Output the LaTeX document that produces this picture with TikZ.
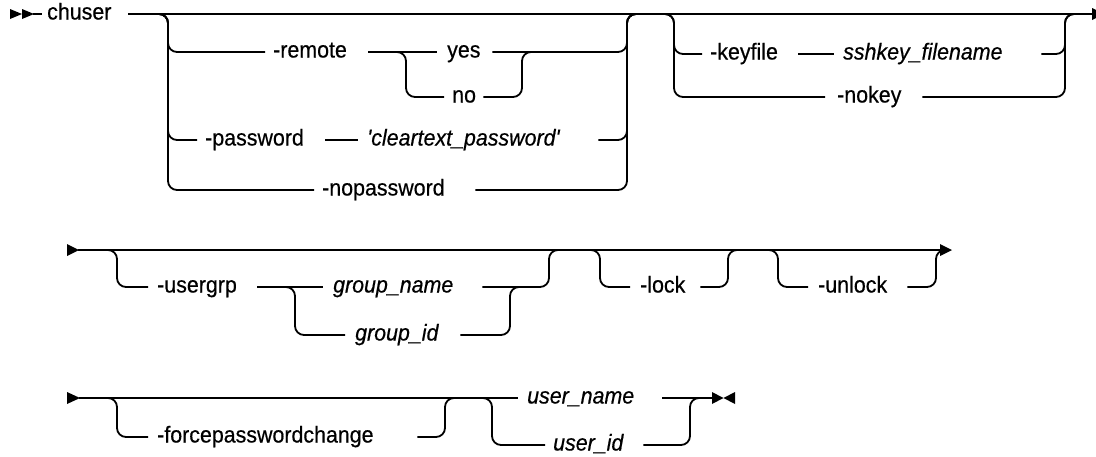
\documentclass[tikz,border=0pt]{standalone}
\usepackage{fontspec}
\newfontfamily\plex[FakeBold=0.5,FakeStretch=0.93]{Liberation Sans}
\newcommand\lab[3]{\makebox[#1pt][l]{\hspace{#2pt}#3}}
\begin{document}
\begin{tikzpicture}[x=1pt,y=-1pt,
  rail/.style={line width=1.8pt, rounded corners=9pt},
  lbl/.style={anchor=west, inner sep=0pt, text height=16pt, text depth=5pt, font=\plex\fontsize{23}{26}\selectfont},
  itl/.style={lbl, font=\plex\itshape\fontsize{23}{26}\selectfont},
  tipfill/.style={fill=black}]
\useasboundingbox (0,0) rectangle (1096,456);

% ---------- row 1 ----------
\fill[tipfill] (10,9) -- (10,19) -- (22,14) -- cycle;
\fill[tipfill] (22,9) -- (22,19) -- (34,14) -- cycle;
\coordinate (s1) at (33,14);
\node[lbl] (chuser) at (42,14) {\lab{86}{5}{chuser}};
\coordinate (e1) at (1093,14);
\draw[rail] (s1) -- (chuser.west);
\draw[rail] (chuser.east) -- (e1);
\fill[tipfill] (1092,8) -- (1096,10) -- (1096,18) -- (1092,20) -- cycle;

% group 1
\coordinate (g1a) at (160,14);
\coordinate (g1l) at (168,14);
\coordinate (g1r) at (627,14);
\coordinate (g1b) at (635,14);
\node[lbl] (remote) at (265,52) {\lab{103}{8}{-remote}};
\node[lbl] (yes) at (437,52) {\lab{55}{10}{yes}};
\node[lbl] (no) at (444,97) {\lab{39}{8}{no}};
\node[lbl] (password) at (197,140) {\lab{128}{8}{-password}};
\node[itl] (clear) at (358,140) {\lab{240}{9}{'cleartext\_password'}};
\node[lbl] (nopw) at (314,190) {\lab{161}{8}{-nopassword}};
\coordinate (yna) at (398,52);
\coordinate (ynl) at (406,52);
\coordinate (ynr) at (522,52);
\coordinate (ynb) at (530,52);

\draw[rail] (g1a) -- (g1l) |- (remote.west);
\draw[rail] (g1a) -- (g1l) |- (password.west);
\draw[rail] (g1a) -- (g1l) |- (nopw.west);
\draw[rail] (remote.east) -- (yes.west);
\draw[rail] (yna) -- (ynl) |- (no.west);
\draw[rail] (no.east) -| (ynr) -- (ynb);
\draw[rail] (yes.east) -| (g1r) -- (g1b);
\draw[rail] (password.east) -- (clear.west);
\draw[rail] (clear.east) -| (g1r) -- (g1b);
\draw[rail] (nopw.east) -| (g1r) -- (g1b);

% group 2
\coordinate (g2a) at (666,14);
\coordinate (g2l) at (674,14);
\coordinate (g2r) at (1065,14);
\coordinate (g2b) at (1073,14);
\node[lbl] (keyfile) at (702,54) {\lab{96}{8}{-keyfile}};
\node[itl] (sshkey) at (834,54) {\lab{207}{9}{sshkey\_filename}};
\node[lbl] (nokey) at (825,97) {\lab{97}{12}{-nokey}};
\draw[rail] (g2a) -- (g2l) |- (keyfile.west);
\draw[rail] (g2a) -- (g2l) |- (nokey.west);
\draw[rail] (keyfile.east) -- (sshkey.west);
\draw[rail] (sshkey.east) -| (g2r) -- (g2b);
\draw[rail] (nokey.east) -| (g2r) -- (g2b);

% ---------- row 2 ----------
\fill[tipfill] (67,244) -- (67,256) -- (79,250) -- cycle;
\coordinate (s2) at (78,250);
\coordinate (e2) at (941,250);
\draw[rail] (s2) -- (e2);
\fill[tipfill] (940,244) -- (940,256) -- (952,250) -- cycle;

\coordinate (ua) at (109,250);
\coordinate (ul) at (117,250);
\coordinate (ur) at (549,250);
\coordinate (ub) at (557,250);
\node[lbl] (usergrp) at (148,287) {\lab{109}{9}{-usergrp}};
\node[itl] (gname) at (323,287) {\lab{159}{10}{group\_name}};
\node[itl] (gid) at (345,335) {\lab{115}{10}{group\_id}};
\coordinate (gsa) at (287,287);
\coordinate (gsl) at (295,287);
\coordinate (gsr) at (510,287);
\coordinate (gsb) at (518,287);
\draw[rail] (ua) -- (ul) |- (usergrp.west);
\draw[rail] (usergrp.east) -- (gname.west);
\draw[rail] (gsa) -- (gsl) |- (gid.west);
\draw[rail] (gid.east) -| (gsr) -- (gsb);
\draw[rail] (gname.east) -| (ur) -- (ub);

\coordinate (la) at (592,250);
\coordinate (ll) at (600,250);
\coordinate (lr) at (728,250);
\coordinate (lb) at (736,250);
\node[lbl] (lock) at (630,287) {\lab{70}{10}{-lock}};
\draw[rail] (la) -- (ll) |- (lock.west);
\draw[rail] (lock.east) -| (lr) -- (lb);

\coordinate (na) at (770,250);
\coordinate (nl) at (778,250);
\coordinate (nr) at (936,250);
\coordinate (nb) at (944,250);
\node[lbl] (unlock) at (808,287) {\lab{99}{10}{-unlock}};
\draw[rail] (na) -- (nl) |- (unlock.west);
\draw[rail] (unlock.east) -| (nr) -- (nb);

% ---------- row 3 ----------
\fill[tipfill] (67,392) -- (67,404) -- (80,398) -- cycle;
\coordinate (s3) at (79,398);
\node[itl] (uname) at (518,398) {\lab{144}{9}{user\_name}};
\node[itl] (uid) at (545,445) {\lab{98}{8}{user\_id}};
\node[lbl] (force) at (148,437) {\lab{269}{9}{-forcepasswordchange}};
\coordinate (e3) at (713,398);
\draw[rail] (s3) -- (uname.west);
\draw[rail] (uname.east) -- (e3);
\fill[tipfill] (712,392) -- (712,404) -- (723.5,398) -- cycle;
\fill[tipfill] (735,392) -- (735,404) -- (723.5,398) -- cycle;

\coordinate (fa) at (109,398);
\coordinate (fl) at (117,398);
\coordinate (fr) at (445,398);
\coordinate (fb) at (453,398);
\draw[rail] (fa) -- (fl) |- (force.west);
\draw[rail] (force.east) -| (fr) -- (fb);

\coordinate (usa) at (484,398);
\coordinate (usl) at (492,398);
\coordinate (usr) at (690,398);
\coordinate (usb) at (698,398);
\draw[rail] (usa) -- (usl) |- (uid.west);
\draw[rail] (uid.east) -| (usr) -- (usb);
\end{tikzpicture}
\end{document}
